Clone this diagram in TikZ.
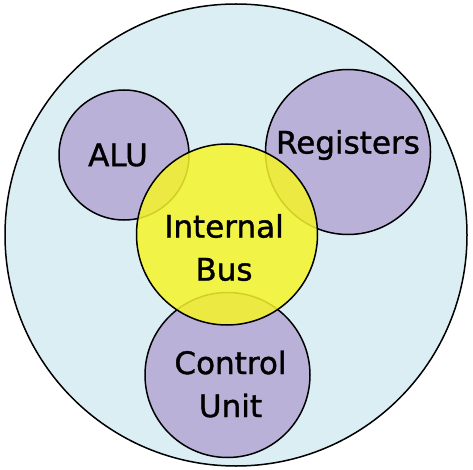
\documentclass[tikz,border=0pt]{standalone}
\usepackage{fontspec}
\setmainfont{DejaVu Sans}[FakeBold=1.2]
\usepackage{tikz}
\definecolor{cpuback}{RGB}{219,238,243}
\definecolor{unitfill}{RGB}{185,177,216}
\definecolor{busfill}{RGB}{245,245,40}

\begin{document}
\begin{tikzpicture}[x=1pt,y=-1pt]
\tikzset{unit/.style = {shape=circle,draw,line width=1.5pt,fill=unitfill,inner sep=0pt}}
\tikzset{word/.style = {align=center,font=\fontsize{31}{43}\selectfont}}
\useasboundingbox (0,0) rectangle (473,470);
% circles
\node[shape=circle,draw,line width=1.5pt,fill=cpuback,minimum size=462pt] (cpu) at (236,235) {};
\node[unit,minimum size=130pt] (alu) at  (124,155) {};
\node[unit,minimum size=165pt] (reg) at  (348,152) {};
\node[unit,minimum size=165pt] (cu) at  (227.5,375) {};
\node[unit,fill=busfill,fill opacity=0.85,minimum size=181pt] (bus) at  (227,234.5) {};
% labels
\node[word] (alutext) at ([xshift=-6pt]alu.center) {ALU};
\node[word] (regtext) at ([yshift=7pt]reg.center) {Registers};
\node[word] (bustext) at ([xshift=-3pt,yshift=-13pt]bus.center) {Internal\\Bus};
\node[word] (cutext) at ([xshift=3pt,yshift=-9pt]cu.center) {Control\\Unit};
\end{tikzpicture}
\end{document}
